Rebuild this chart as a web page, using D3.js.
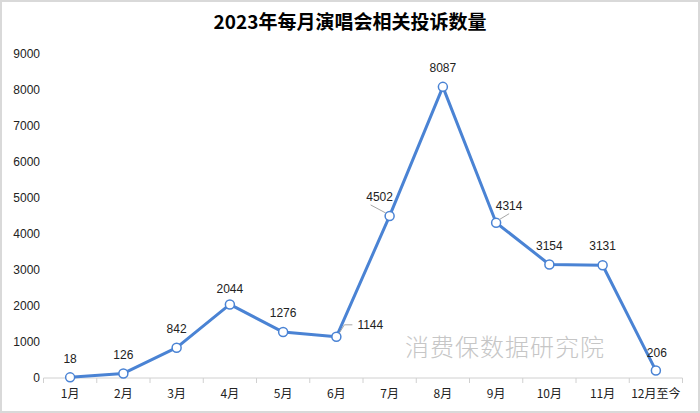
<!DOCTYPE html>
<html><head><meta charset="utf-8">
<script src="https://cdn.jsdelivr.net/npm/d3@7"></script>
<style>
body{margin:0;background:#fff;}
svg{display:block;}
</style></head>
<body>
<svg id="chart" width="700" height="413"></svg>
<script>
const months = ["1月","2月","3月","4月","5月","6月","7月","8月","9月","10月","11月","12月至今"];
const counts = [18,126,842,2044,1276,1144,4502,8087,4314,3154,3131,206];
const yTicks = [0,1000,2000,3000,4000,5000,6000,7000,8000,9000];
const titleText = "2023年每月演唱会相关投诉数量";
const watermark = "消费保数据研究院";

const W = 700, H = 413;
const svg = d3.select("#chart");
const m = {left:43.5, right:17.5, top:54, bottom:35};
const x = d3.scaleBand().domain(months).range([m.left, W - m.right]);
const y = d3.scaleLinear().domain([0, 9000]).range([H - m.bottom, m.top]);
const cx = d => x(d) + x.bandwidth()/2;

// border
svg.append("rect").attr("x",1).attr("y",1).attr("width",W-2).attr("height",H-2)
  .attr("fill","#fff").attr("stroke","#d9d9d9").attr("stroke-width",2);

// title
svg.append("text").attr("x",350).attr("y",29).attr("text-anchor","middle")
  .attr("font-family","'Noto Sans CJK SC', sans-serif").attr("font-weight","bold")
  .attr("font-size",19).attr("fill","#000").text(titleText);

// watermark
svg.append("text").attr("x",505).attr("y",356).attr("text-anchor","middle")
  .attr("font-family","'Noto Sans CJK SC', sans-serif").attr("font-weight",300)
  .attr("font-size",24).attr("fill","#c6c6c6").attr("letter-spacing",1).text(watermark);

// y axis labels
svg.append("g").selectAll("text").data(yTicks).join("text")
  .attr("x",40).attr("y",d=>y(d)).attr("dy","0.35em").attr("text-anchor","end")
  .attr("font-family","'Liberation Sans', 'Noto Sans', sans-serif").attr("font-size",12)
  .attr("fill","#222").text(d=>d);

// x axis
const xAxis = svg.append("g").attr("transform",`translate(0,${y(0)})`);
xAxis.append("line").attr("x1",m.left).attr("x2",W-m.right).attr("stroke","#d0d0d0").attr("stroke-width",1);
const edges = months.map(d=>x(d)).concat([x(months[months.length-1])+x.bandwidth()]);
xAxis.selectAll("line.tk").data(edges).join("line").attr("class","tk")
  .attr("x1",d=>d).attr("x2",d=>d).attr("y1",0).attr("y2",5).attr("stroke","#d0d0d0");
xAxis.selectAll("text").data(months).join("text")
  .attr("x",d=>cx(d)).attr("y",20).attr("text-anchor","middle")
  .attr("font-family","'Noto Sans CJK SC', sans-serif").attr("font-size",12)
  .attr("fill","#222").text(d=>d);

// line
const data = months.map((mo,i)=>({m:mo, v:counts[i]}));
svg.append("path").datum(data)
  .attr("fill","none").attr("stroke","#4a83d4").attr("stroke-width",3).attr("stroke-linejoin","round")
  .attr("d", d3.line().x(d=>cx(d.m)).y(d=>y(d.v)));

svg.append("g").selectAll("circle").data(data).join("circle")
  .attr("cx",d=>cx(d.m)).attr("cy",d=>y(d.v)).attr("r",4.5)
  .attr("fill","#fff").attr("stroke","#4a83d4").attr("stroke-width",1.5);

// data labels (offsets in px relative to point)
const offs = {
  "4月":[0,-16], "7月":[-10,-19], "9月":[13,-17], "6月":[21,-12], "12月至今":[1,-18]
};
svg.append("g").selectAll("text").data(data).join("text")
  .attr("x",d=>cx(d.m)+(offs[d.m]?offs[d.m][0]:0))
  .attr("y",d=>y(d.v)+(offs[d.m]?offs[d.m][1]:-19))
  .attr("dy","0.35em")
  .attr("text-anchor", d=>d.m==="6月"?"start":"middle")
  .attr("font-family","'Liberation Sans', 'Noto Sans', sans-serif").attr("font-size",12)
  .attr("fill","#222").text(d=>d.v);

// leader lines
const leaders = [
  {m:"7月", dx1:-19, dy1:-11, dx2:-4, dy2:-3},
  {m:"9月", dx1:13, dy1:-9, dx2:3, dy2:-3},
  {m:"6月", dx1:8, dy1:-12, dx2:16, dy2:-12},
  {m:"6月", dx1:3, dy1:-4, dx2:8, dy2:-12}
];
const vOf = mo => counts[months.indexOf(mo)];
svg.append("g").selectAll("line").data(leaders).join("line")
  .attr("x1",d=>cx(d.m)+d.dx1).attr("y1",d=>y(vOf(d.m))+d.dy1)
  .attr("x2",d=>cx(d.m)+d.dx2).attr("y2",d=>y(vOf(d.m))+d.dy2)
  .attr("stroke","#a6a6a6").attr("stroke-width",1);
</script>
</body></html>
